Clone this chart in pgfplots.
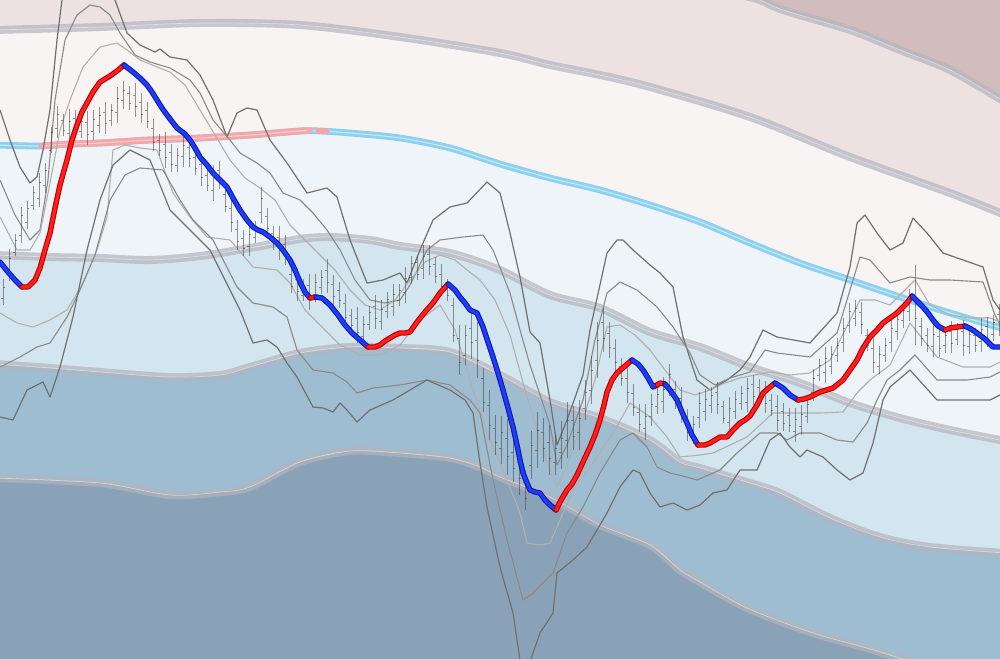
\documentclass[border=0pt]{standalone}
\usepackage{pgfplots}
\usepackage{pgfplotstable}
\pgfplotsset{compat=1.18}

\definecolor{cMauve}{HTML}{D2BDBE}
\definecolor{cPink}{HTML}{EDE1E1}
\definecolor{cLPink}{HTML}{F8F4F3}
\definecolor{cLBlue}{HTML}{EFF4F8}
\definecolor{cMBlue}{HTML}{D3E5EE}
\definecolor{cBlue}{HTML}{9FBDD1}
\definecolor{cDBlue}{HTML}{8AA2B7}
\definecolor{cBand}{HTML}{B4B4BE}
\definecolor{cMA}{HTML}{8ED1EE}
\definecolor{cMAc}{HTML}{C2E7F7}
\definecolor{cMAp}{HTML}{F4A7AB}
\definecolor{cMApc}{HTML}{F9CACC}
\definecolor{cRed}{HTML}{FF1E1E}
\definecolor{cRedE}{HTML}{B80000}
\definecolor{cBlu}{HTML}{1E3CFF}
\definecolor{cBluE}{HTML}{0C1C9C}
\definecolor{cEnvA}{HTML}{707070}
\definecolor{cEnvB}{HTML}{8A8A8A}
\definecolor{cEnvC}{HTML}{B0B0B0}

% price bars: x, top, bottom, open, close (picture units, y grows downward)
\pgfplotstableread{
x t b o c
3 279 305 298 287
9 249 281 272 258
15 234 256 252 240
21 207 243 235 215
27 201 229 222 208
33 186 210 205 192
39 173 207 198 182
45 163 193 185 170
51 127 153 150 132
57 106 138 128 114
63 114 136 120 130
69 109 145 133 121
75 110 138 118 129
81 114 138 131 121
87 111 145 122 134
93 110 140 131 119
99 107 133 125 115
105 102 134 112 123
111 104 126 120 110
117 87 123 112 98
123 81 109 100 90
129 86 110 93 103
135 83 117 95 106
141 93 123 102 114
147 102 128 110 121
153 119 151 128 142
159 134 156 140 150
165 132 168 144 157
171 144 172 152 164
177 148 172 165 155
183 133 167 156 145
189 137 167 147 158
195 149 175 157 168
201 154 186 164 177
207 169 191 175 185
213 165 201 190 176
219 161 189 170 181
225 188 212 194 206
231 198 232 208 222
237 220 250 229 241
243 230 256 238 248
249 224 256 246 234
255 221 243 237 227
261 187 223 212 198
267 208 236 216 228
273 226 250 233 243
279 226 260 237 249
285 235 265 244 256
291 267 293 274 286
297 269 301 279 291
303 279 301 295 285
309 274 310 285 299
315 274 302 294 282
321 270 294 287 277
327 259 293 270 282
333 275 305 284 296
339 282 308 290 300
345 294 326 303 317
351 309 331 315 325
357 307 343 318 332
363 316 344 336 324
369 306 330 324 312
375 295 329 306 318
381 300 330 321 309
387 292 318 311 299
393 284 316 306 294
399 284 306 300 290
405 267 303 292 278
411 256 284 277 263
417 256 280 262 274
423 245 279 268 256
429 245 275 254 266
435 257 283 264 276
441 264 296 274 286
447 279 301 285 295
453 298 342 305 335
459 325 375 338 362
465 325 365 355 335
471 311 359 328 342
477 322 378 340 360
483 368 412 378 402
489 390 440 405 425
495 415 455 428 442
501 416 464 448 432
507 419 475 438 456
513 438 482 452 468
519 445 495 462 478
525 470 510 482 498
531 431 479 465 445
537 412 468 450 430
543 418 462 432 448
549 425 475 442 458
555 435 475 462 448
561 421 469 452 438
567 402 458 440 420
573 406 450 420 436
579 400 450 432 418
585 380 420 408 392
591 356 404 390 370
597 322 378 360 340
603 308 352 322 338
609 322 358 333 347
615 339 371 348 362
621 358 386 366 378
627 367 403 378 392
633 384 416 393 407
639 404 432 412 424
645 404 440 428 416
651 394 426 416 404
657 386 414 406 394
663 377 413 401 389
669 364 396 386 374
675 381 409 389 401
681 387 423 398 412
687 409 441 418 432
693 416 444 436 424
699 392 428 417 403
705 389 421 411 399
711 387 413 405 395
717 382 414 392 404
723 401 423 406 418
729 397 433 422 408
735 391 419 411 399
741 386 410 403 393
747 378 412 402 388
753 375 405 384 396
759 379 405 387 397
765 381 413 391 403
771 394 416 400 410
777 395 431 406 420
783 403 431 411 423
789 408 432 415 425
795 408 442 431 419
801 405 435 426 414
807 397 423 416 404
813 369 401 392 378
819 359 381 375 365
825 347 383 372 358
831 346 374 366 354
837 338 362 355 345
843 318 352 342 328
849 303 333 325 311
855 300 326 318 308
861 302 334 312 324
867 329 351 335 345
873 337 373 348 362
879 346 374 366 354
885 338 362 355 345
891 318 352 342 328
897 310 340 331 319
903 302 328 320 310
909 289 321 311 299
915 265 345 298 318
921 318 346 326 338
927 328 352 335 345
933 323 357 346 334
939 327 357 336 348
945 327 353 345 335
951 321 353 331 343
957 323 345 339 329
963 320 356 331 345
969 326 354 346 334
975 328 352 335 345
981 318 352 341 329
987 317 347 326 338
993 315 341 334 322
999 304 336 314 326
}\candles

\pgfplotsset{
  bandline/.style={draw=cBand, opacity=0.7, line width=4pt, smooth, tension=0.5, line cap=round},
  bandmid/.style={draw=white, opacity=0.45, line width=0.35pt, smooth, tension=0.5},
  envA/.style={draw=cEnvA, line width=0.6pt, line join=round},
  envB/.style={draw=cEnvB, line width=0.55pt, line join=round},
  envC/.style={draw=cEnvC, line width=0.55pt, line join=round},
  upseg/.style={draw=cRedE, line width=2.7pt, line cap=round, line join=round,
    postaction={draw=cRed, line width=1.6pt, line cap=round, line join=round}},
  dnseg/.style={draw=cBluE, line width=2.7pt, line cap=round, line join=round,
    postaction={draw=cBlu, line width=1.6pt, line cap=round, line join=round}},
}

\begin{document}
\begin{tikzpicture}
\begin{axis}[
  scale only axis,
  width=500pt, height=329pt,
  xmin=0, xmax=1000, ymin=0, ymax=658,
  y dir=reverse,
  hide axis,
  clip bounding box=upper bound,
]
% background zones
\addplot[fill=cMauve, draw=none] coordinates {(-5,-5) (1005,-5) (1005,700) (-5,700)};
\addplot[fill=cPink, draw=none] coordinates {(-5,-5) (740,-5) (760,0) (783,10) (850,30) (900,50) (950,70) (1005,102) (1005,700) (-5,700)};
\addplot[fill=cLPink, draw=none] coordinates {(-5,30) (100,27) (200,23) (300,25) (400,37) (500,53) (550,65) (600,75) (650,87) (750,117) (850,157) (950,193) (1005,215) (1005,700) (-5,700)};
\addplot[fill=cLBlue, draw=none] coordinates {(-5,145) (40,146) (70,144) (100,143) (150,140) (200,138) (250,135) (300,131) (320,131) (350,133) (400,138) (450,148) (500,164) (550,178) (600,190) (650,205) (700,222) (750,243) (800,263) (850,280) (900,297) (950,313) (1005,329) (1005,700) (-5,700)};
\addplot[fill=cMBlue, draw=none] coordinates {(-5,255) (50,257) (100,258) (150,260) (200,256) (250,248) (300,239) (330,237) (370,240) (400,246) (450,253) (500,270) (550,295) (600,308) (650,332) (700,347) (750,367) (800,383) (850,403) (900,418) (950,430) (1005,441) (1005,700) (-5,700)};
\addplot[fill=cBlue, draw=none] coordinates {(-5,364) (50,368) (100,372) (170,377) (220,375) (250,367) (300,353) (350,347) (400,348) (450,352) (500,375) (550,402) (600,418) (650,440) (680,462) (700,468) (750,483) (780,493) (830,518) (880,537) (930,547) (1005,553) (1005,700) (-5,700)};
\addplot[fill=cDBlue, draw=none] coordinates {(-5,478) (100,483) (170,495) (220,492) (250,487) (300,462) (350,451) (400,453) (450,458) (480,467) (500,477) (550,497) (600,525) (650,545) (680,570) (700,582) (747,608) (813,633) (880,652) (1005,692) (1005,700) (-5,700)};

% zone boundaries
\addplot[bandline] coordinates {(740,-5) (760,0) (783,10) (850,30) (900,50) (950,70) (1005,102)};
\addplot[bandmid] coordinates {(740,-5) (760,0) (783,10) (850,30) (900,50) (950,70) (1005,102)};
\addplot[bandline] coordinates {(-5,30) (100,27) (200,23) (300,25) (400,37) (500,53) (550,65) (600,75) (650,87) (750,117) (850,157) (950,193) (1005,215)};
\addplot[bandmid] coordinates {(-5,30) (100,27) (200,23) (300,25) (400,37) (500,53) (550,65) (600,75) (650,87) (750,117) (850,157) (950,193) (1005,215)};
\addplot[bandline] coordinates {(-5,255) (50,257) (100,258) (150,260) (200,256) (250,248) (300,239) (330,237) (370,240) (400,246) (450,253) (500,270) (550,295) (600,308) (650,332) (700,347) (750,367) (800,383) (850,403) (900,418) (950,430) (1005,441)};
\addplot[bandmid] coordinates {(-5,255) (50,257) (100,258) (150,260) (200,256) (250,248) (300,239) (330,237) (370,240) (400,246) (450,253) (500,270) (550,295) (600,308) (650,332) (700,347) (750,367) (800,383) (850,403) (900,418) (950,430) (1005,441)};
\addplot[bandline] coordinates {(-5,364) (50,368) (100,372) (170,377) (220,375) (250,367) (300,353) (350,347) (400,348) (450,352) (500,375) (550,402) (600,418) (650,440) (680,462) (700,468) (750,483) (780,493) (830,518) (880,537) (930,547) (1005,553)};
\addplot[bandmid] coordinates {(-5,364) (50,368) (100,372) (170,377) (220,375) (250,367) (300,353) (350,347) (400,348) (450,352) (500,375) (550,402) (600,418) (650,440) (680,462) (700,468) (750,483) (780,493) (830,518) (880,537) (930,547) (1005,553)};
\addplot[bandline] coordinates {(-5,478) (100,483) (170,495) (220,492) (250,487) (300,462) (350,451) (400,453) (450,458) (480,467) (500,477) (550,497) (600,525) (650,545) (680,570) (700,582) (747,608) (813,633) (880,652) (1005,692)};
\addplot[bandmid] coordinates {(-5,478) (100,483) (170,495) (220,492) (250,487) (300,462) (350,451) (400,453) (450,458) (480,467) (500,477) (550,497) (600,525) (650,545) (680,570) (700,582) (747,608) (813,633) (880,652) (1005,692)};

% long average
\addplot[draw=cMA, line width=3.4pt, smooth, tension=0.5, line cap=round] coordinates {(-5,145) (40,146) (70,144) (100,143) (150,140) (200,138) (250,135) (300,131) (320,131) (350,133) (400,138) (450,148) (500,164) (550,178) (600,190) (650,205) (700,222) (750,243) (800,263) (850,280) (900,297) (950,313) (1005,329)};
\addplot[draw=cMAc, line width=0.6pt, smooth, tension=0.5] coordinates {(-5,145) (40,146) (70,144) (100,143) (150,140) (200,138) (250,135) (300,131) (320,131) (350,133) (400,138) (450,148) (500,164) (550,178) (600,190) (650,205) (700,222) (750,243) (800,263) (850,280) (900,297) (950,313) (1005,329)};
\addplot[draw=cMAp, line width=3.4pt, smooth, tension=0.5, line cap=round] coordinates {(42,146) (70,144) (100,143) (150,140) (200,138) (250,135) (300,131) (305,131)};
\addplot[draw=cMApc, line width=0.6pt, smooth, tension=0.5] coordinates {(42,146) (70,144) (100,143) (150,140) (200,138) (250,135) (300,131) (305,131)};
\addplot[draw=cMAp, line width=3.4pt, line cap=round] coordinates {(319,131) (326,131)};

% envelopes
\addplot[envA] coordinates {(0,110) (10,140) (20,167) (30,183) (37,177) (43,150) (50,110) (57,40) (62,0) (75,-40) (100,-40) (115,0) (127,33) (140,45) (155,52) (160,49) (170,57) (187,60) (200,75) (213,100) (227,137) (237,113) (247,108) (257,110) (270,140) (287,163) (307,193) (327,188) (337,197) (350,240) (367,283) (383,280) (400,273) (407,283) (420,250) (433,220) (450,207) (467,203) (487,182) (500,193) (510,233) (520,277) (530,332) (540,343) (550,400) (557,445) (567,420) (583,375) (590,330) (607,253) (617,240) (623,240) (633,250) (650,265) (660,273) (673,287) (683,337) (697,380) (710,390) (727,380) (740,370) (750,357) (763,330) (777,337) (810,343) (837,313) (850,267) (857,223) (865,215) (877,233) (890,250) (903,243) (913,218) (927,233) (943,253) (963,260) (983,267) (993,300) (1000,310)};
\addplot[envB] coordinates {(0,180) (15,215) (30,240) (40,230) (48,180) (55,100) (65,40) (77,15) (90,5) (100,7) (110,15) (120,33) (135,55) (150,62) (170,68) (190,80) (200,93) (213,120) (230,140) (240,153) (257,163) (270,173) (283,193) (300,200) (313,213) (327,230) (340,250) (355,280) (370,300) (385,303) (400,300) (410,285) (427,250) (440,240) (463,237) (483,235) (493,250) (510,293) (520,330) (530,365) (540,395) (550,425) (557,465) (567,445) (583,400) (595,340) (607,293) (620,282) (637,290) (657,307) (673,327) (690,353) (700,375) (715,385) (730,378) (750,372) (765,350) (777,353) (810,357) (837,333) (850,290) (860,257) (870,260) (890,283) (910,277) (930,280) (950,280) (983,282) (995,315) (1000,325)};
\addplot[envC] coordinates {(0,217) (17,250) (30,250) (40,233) (50,183) (60,130) (70,100) (83,67) (100,47) (117,43) (127,50) (140,60) (157,67) (170,72) (185,85) (200,110) (215,135) (230,160) (245,178) (260,188) (275,200) (290,225) (305,240) (320,255) (335,270) (350,290) (365,305) (380,310) (395,300) (410,280) (425,262) (440,255) (455,260) (467,270) (480,280) (495,300) (510,335) (525,390) (540,440) (550,470) (557,487) (567,465) (580,430) (595,380) (607,327) (620,325) (635,335) (650,350) (665,370) (680,390) (695,395) (710,390) (725,383) (740,378) (755,375) (770,372) (790,375) (810,373) (830,360) (845,330) (860,300) (875,300) (890,305) (905,290) (915,280) (930,305) (950,315) (970,318) (990,318) (1000,322)};
\addplot[envC] coordinates {(0,313) (17,323) (33,327) (50,320) (67,310) (83,283) (97,250) (107,217) (113,150) (125,145) (140,148) (157,150) (173,193) (190,217) (207,237) (230,240) (253,267) (277,270) (290,283) (305,310) (320,325) (340,345) (360,355) (380,355) (400,345) (420,320) (440,305) (455,330) (470,380) (490,440) (505,475) (520,513) (527,543) (540,545) (550,543) (560,520) (573,490) (593,463) (613,433) (630,403) (650,417) (667,437) (680,457) (700,455) (713,453) (747,437) (773,413) (797,413) (820,413) (843,412) (857,393) (870,380) (890,365) (910,323) (937,357) (963,367) (990,367) (1000,362)};
\addplot[envB] coordinates {(0,367) (20,357) (37,347) (50,343) (67,317) (80,290) (95,255) (110,200) (125,175) (140,168) (163,170) (180,200) (193,220) (213,240) (237,287) (253,303) (273,307) (287,317) (297,350) (313,370) (333,373) (347,382) (357,393) (373,388) (400,385) (427,380) (450,385) (470,400) (480,413) (493,480) (507,540) (523,600) (533,593) (553,573) (567,533) (583,507) (600,473) (620,440) (633,433) (647,447) (657,467) (670,473) (687,477) (697,480) (720,470) (737,453) (760,433) (777,433) (787,440) (800,433) (820,433) (837,440) (853,442) (867,423) (877,400) (887,380) (900,370) (915,355) (937,380) (967,380) (990,377) (1000,372)};
\addplot[envA] coordinates {(0,417) (13,420) (27,390) (43,382) (50,397) (60,367) (73,317) (87,250) (100,200) (113,165) (130,150) (150,160) (170,210) (190,230) (210,250) (240,310) (253,343) (267,340) (277,347) (287,363) (297,377) (313,407) (323,408) (333,412) (340,403) (347,410) (357,422) (370,410) (393,400) (410,390) (427,380) (450,390) (465,400) (473,413) (480,463) (487,507) (500,567) (513,613) (520,660) (527,670) (540,633) (553,613) (557,573) (573,560) (587,547) (607,513) (620,487) (633,470) (640,473) (650,493) (660,507) (673,503) (687,510) (700,505) (713,493) (727,490) (740,470) (757,470) (770,440) (780,433) (790,447) (800,457) (807,450) (823,457) (837,470) (850,480) (863,473) (873,443) (883,400) (890,387) (910,370) (937,400) (967,400) (990,400) (1000,395)};

% price bars
\addplot[draw=none, mark=none,
  error bars/.cd, y dir=both, y explicit, error mark=none,
  error bar style={line width=0.45pt, draw=black!75, opacity=0.55}]
  table[x=x, y expr=(\thisrow{t}+\thisrow{b})/2, y error expr=(\thisrow{b}-\thisrow{t})/2] {\candles};
\addplot[draw=none, mark=-, mark size=0.6pt, mark options={line width=0.4pt, draw=black!75, opacity=0.55}]
  table[x expr=\thisrow{x}-1.2, y=o] {\candles};
\addplot[draw=none, mark=-, mark size=0.6pt, mark options={line width=0.4pt, draw=black!75, opacity=0.55}]
  table[x expr=\thisrow{x}+1.2, y=c] {\candles};

% smoothed average, coloured by direction
\addplot[dnseg] coordinates {(0,262) (8,272) (15,280) (22,287)};
\addplot[upseg] coordinates {(22,287) (28,287) (35,280) (40,268) (45,250) (50,233) (55,208) (60,185) (67,160) (72,140) (77,125) (82,112) (87,103) (93,92) (100,82) (110,76) (117,71) (124,65)};
\addplot[dnseg] coordinates {(124,65) (133,72) (140,78) (147,85) (152,92) (157,100) (162,108) (167,115) (177,128) (185,134) (190,140) (195,148) (200,157) (207,165) (213,173) (220,180) (227,187) (233,198) (240,210) (247,220) (253,227) (258,230) (263,232) (270,237) (277,243) (283,250) (290,260) (295,270) (300,282) (305,292) (310,298)};
\addplot[upseg] coordinates {(310,298) (316,297)};
\addplot[dnseg] coordinates {(316,297) (322,298) (330,305) (338,315) (345,325) (352,333) (360,340) (368,347)};
\addplot[upseg] coordinates {(368,347) (375,347) (380,345) (385,341) (390,338) (395,335) (400,333) (405,333) (410,332) (417,322) (425,312) (433,303) (440,293) (448,284)};
\addplot[dnseg] coordinates {(448,284) (455,290) (460,297) (465,303) (470,310) (477,313) (480,320) (483,327) (488,342) (493,357) (498,373) (503,390) (508,408) (513,427) (517,445) (520,460) (523,473) (527,483) (530,490) (535,492) (540,493) (545,500) (550,505) (556,510)};
\addplot[upseg] coordinates {(556,510) (561,500) (567,490) (572,484) (577,475) (583,462) (590,447) (595,435) (600,420) (604,405) (607,392) (612,380) (617,373) (625,366) (632,360)};
\addplot[dnseg] coordinates {(632,360) (638,364) (643,370) (648,378) (653,387) (657,385)};
\addplot[upseg] coordinates {(657,385) (660,383) (665,384)};
\addplot[dnseg] coordinates {(665,384) (670,390) (677,400) (682,412) (687,423) (692,435) (698,445)};
\addplot[upseg] coordinates {(698,445) (705,445) (710,443) (715,440) (720,437) (727,437) (733,430) (740,423) (745,420) (750,416) (757,405) (763,393) (770,387) (775,383)};
\addplot[dnseg] coordinates {(775,383) (783,388) (790,395) (798,400)};
\addplot[upseg] coordinates {(798,400) (804,399) (810,397) (820,392) (833,388) (843,380) (850,370) (857,360) (863,348) (870,337) (877,330) (883,323) (890,318) (897,313) (903,307) (907,303) (912,296)};
\addplot[dnseg] coordinates {(912,296) (917,301) (923,307) (928,313) (933,320) (938,326) (945,330)};
\addplot[upseg] coordinates {(945,330) (950,328) (957,327) (965,326)};
\addplot[dnseg] coordinates {(965,326) (971,329) (977,333) (985,339) (993,347) (1000,347)};
\end{axis}
\end{tikzpicture}
\end{document}
